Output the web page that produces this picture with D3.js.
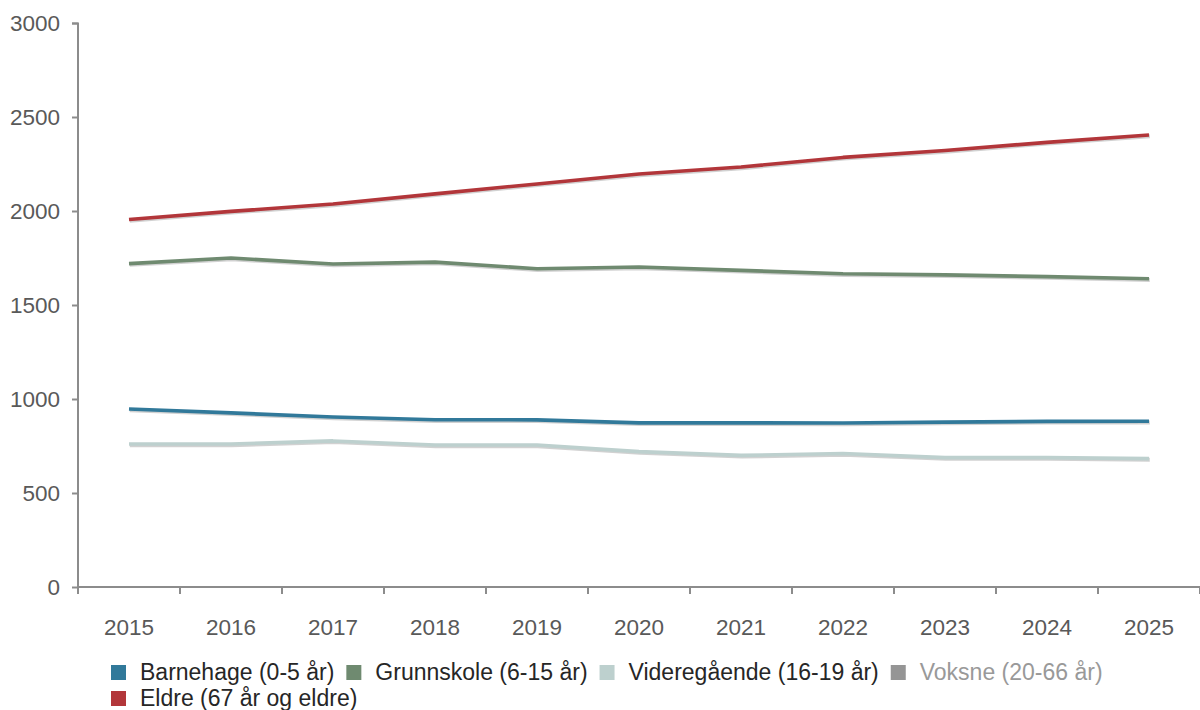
<!DOCTYPE html>
<html><head><meta charset="utf-8">
<script src="https://cdn.jsdelivr.net/npm/d3@7"></script>
<style>body{margin:0;background:#fff}svg{display:block;font-family:"Liberation Sans",Arial,sans-serif}</style>
</head><body><svg id="c" width="1200" height="710"></svg>
<script>
const years = ["2015","2016","2017","2018","2019","2020","2021","2022","2023","2024","2025"];
const barnehage = [947,926,904,890,889,873,873,872,877,881,882];
const grunnskole = [1720,1750,1718,1728,1693,1702,1684,1666,1660,1651,1640];
const videregaende = [761,761,777,755,755,720,700,710,688,688,683];
const eldre = [1955,1998,2037,2091,2144,2197,2234,2285,2322,2365,2404];
const yTicks = [0,500,1000,1500,2000,2500,3000];
const seriesNames = ["Barnehage (0-5 år)","Grunnskole (6-15 år)","Videregående (16-19 år)","Voksne (20-66 år)","Eldre (67 år og eldre)"];
const seriesColors = ["#31799a","#6f8a70","#bdd0ce","#959595","#b2363a"];
const seriesValues = [barnehage, grunnskole, videregaende, null, eldre];

const svg = d3.select("#c");
const x = d3.scaleBand().domain(years).range([78,1200]);
const y = d3.scaleLinear().domain([0,3000]).range([587,23]);

// Y axis
const ya = svg.append("g").attr("transform","translate(78,0)")
  .call(d3.axisLeft(y).tickValues(yTicks).tickSize(6).tickPadding(12).tickFormat(d3.format("d")));
ya.select(".domain").attr("stroke","#8c8c8c").attr("stroke-width",2).attr("d","M-6,23.5H0V587");
ya.selectAll(".tick line").attr("stroke","#8c8c8c").attr("stroke-width",2);
ya.selectAll(".tick text").attr("fill","#595959").style("font-size","22.5px").style("font-family","Liberation Sans, Arial, sans-serif");

// X axis
const xa = svg.append("g").attr("transform","translate(0,587)")
  .call(d3.axisBottom(x).tickSize(0).tickPadding(32));
xa.select(".domain").attr("stroke","#8c8c8c").attr("stroke-width",2).attr("d","M78,0H1200");
xa.selectAll(".tick text").attr("fill","#595959").style("font-size","22.5px").style("font-family","Liberation Sans, Arial, sans-serif");
const bounds = years.map(d => x(d)).concat([x(years[years.length-1]) + x.bandwidth()]);
svg.append("g").selectAll("line").data(bounds).join("line")
  .attr("x1",d=>d).attr("x2",d=>d).attr("y1",587).attr("y2",594)
  .attr("stroke","#8c8c8c").attr("stroke-width",2);

// Lines
const line = d3.line().x((d,i)=>x(years[i])+x.bandwidth()/2).y(d=>y(d));
seriesValues.forEach((vals,k)=>{
  if(!vals) return;
  svg.append("path").datum(vals).attr("d",line).attr("fill","none")
    .attr("stroke","#000").attr("stroke-opacity",0.18).attr("stroke-width",4)
    .attr("transform","translate(0.8,1.2)").attr("stroke-linejoin","round");
  svg.append("path").datum(vals).attr("d",line).attr("fill","none")
    .attr("stroke",seriesColors[k]).attr("stroke-width",3.6).attr("stroke-linejoin","round");
});

// Legend
const lg = svg.append("g");
let lx = 111, ly = 672;
seriesNames.forEach((name,k)=>{
  const g = lg.append("g");
  const t = g.append("text").attr("x",lx+29).attr("y",ly+8).text(name)
    .style("font-size","23px").attr("fill", k===3 ? "#999999" : "#262626");
  const w = t.node().getComputedTextLength();
  if (lx + 29 + w > 1190) {
    lx = 111; ly += 26;
    t.attr("x",lx+29).attr("y",ly+8);
  }
  g.append("rect").attr("x",lx).attr("y",ly-7).attr("width",15).attr("height",15).attr("fill",seriesColors[k]);
  lx += 29 + w + 12;
});
</script></body></html>
